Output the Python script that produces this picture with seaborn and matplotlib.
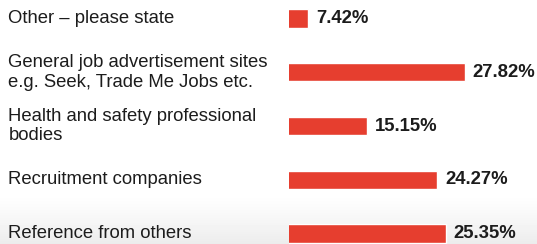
import matplotlib
matplotlib.use("Agg")
import matplotlib.pyplot as plt
import matplotlib.transforms as mtransforms
import seaborn as sns
import pandas as pd
import numpy as np

categories = [
    "Other – please state",
    "General job advertisement sites\ne.g. Seek, Trade Me Jobs etc.",
    "Health and safety professional\nbodies",
    "Recruitment companies",
    "Reference from others",
]
values = [7.42, 27.82, 15.15, 24.27, 25.35]
value_labels = ["7.42%", "27.82%", "15.15%", "24.27%", "25.35%"]

df = pd.DataFrame({"category": categories, "value": values})

sns.set_theme(style="white")
plt.rcParams["font.family"] = ["Liberation Sans", "DejaVu Sans"]

W, H = 537, 244
fig = plt.figure(figsize=(W / 100, H / 100), dpi=100)
fig.patch.set_facecolor("white")

# subtle light-grey fade at the bottom (as in the reference screenshot)
bg = fig.add_axes([0, 0, 1, 1], zorder=-1)
rows = np.linspace(0, 1, H)  # 0 = top, 1 = bottom
start = 194 / H
shade = np.where(rows < start, 1.0, 1.0 - 0.075 * ((rows - start) / (1 - start)) ** 1.2)
img = np.repeat(shade[:, None], 10, axis=1)
bg.imshow(img, cmap="gray", vmin=0, vmax=1, aspect="auto", extent=[0, 1, 0, 1])
bg.set_axis_off()

ax = fig.add_axes([289 / W, 0, 248 / W, 1])

sns.barplot(data=df, y="category", x="value", orient="h", color="#E63E2F",
            width=0.34, saturation=1, ax=ax)

ax.set_xlim(4.97, 4.97 + 248 / 7.685)
ax.set_ylim(4.195, -0.344)
ax.set_xlabel("")
ax.set_ylabel("")
ax.set_xticks([])
ax.set_yticks([])
for s in ax.spines.values():
    s.set_visible(False)
ax.patch.set_alpha(0)

trans = mtransforms.blended_transform_factory(fig.transFigure, ax.transData)
for i, cat in enumerate(categories):
    ax.text(8.5 / W, i, cat, transform=trans, ha="left", va="center",
            fontsize=13.3, color="#1c1c1c", linespacing=1.22)

for i, (v, lab) in enumerate(zip(values, value_labels)):
    ax.annotate(lab, xy=(v, i), xytext=(8, 0), textcoords="offset pixels",
                ha="left", va="center", fontsize=13.3, fontweight="bold",
                color="#1c1c1c", annotation_clip=False)

fig.savefig("out.png", dpi=100, facecolor="white")
